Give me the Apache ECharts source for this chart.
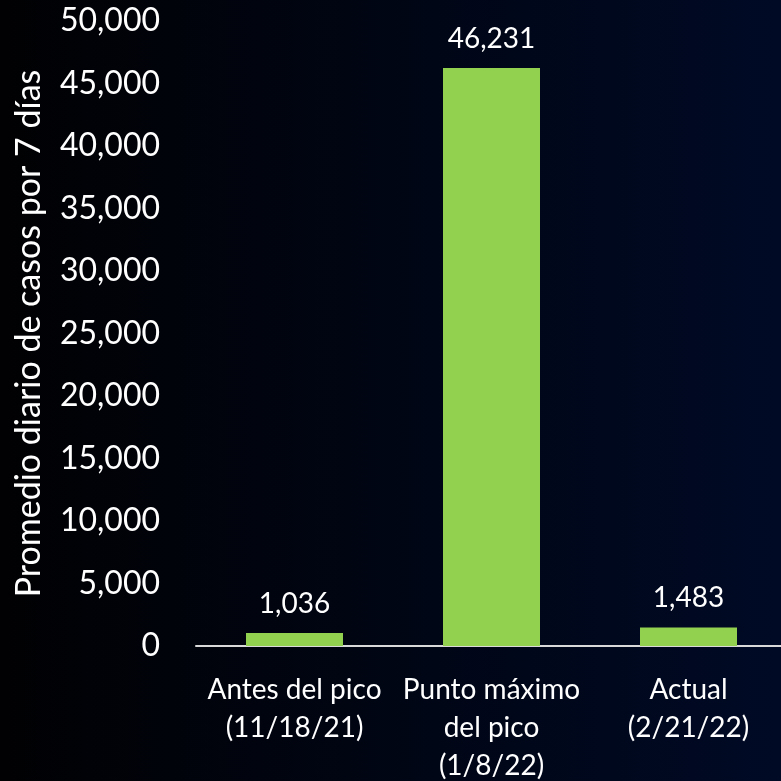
<!DOCTYPE html>
<html>
<head>
<meta charset="utf-8">
<script src="https://cdn.jsdelivr.net/npm/echarts@6/dist/echarts.min.js"></script>
<style>
html,body{margin:0;padding:0;background:#000;}
#c{width:781px;height:781px;}
</style>
</head>
<body>
<div id="c"></div>
<script>
const categories = ["Antes del pico\n(11/18/21)", "Punto máximo\ndel pico\n(1/8/22)", "Actual\n(2/21/22)"];
const values = [1036, 46231, 1483];
const yTitle = "Promedio diario de casos por 7 días";

const chart = echarts.init(document.getElementById('c'), null, {renderer: 'canvas'});
const fmt = v => v.toLocaleString('en-US');
chart.setOption({
  backgroundColor: new echarts.graphic.LinearGradient(0, 0, 1, 0, [
    {offset: 0, color: '#010103'},
    {offset: 1, color: '#000a25'}
  ]),
  animation: false,
  textStyle: {fontFamily: 'Lato'},
  grid: {left: 196, right: -6, top: 21, bottom: 135, containLabel: false, outerBoundsMode: 'none'},
  xAxis: {
    type: 'category',
    data: categories,
    axisLine: {show: true, lineStyle: {color: '#d9d9d9', width: 2}},
    axisTick: {show: false},
    axisLabel: {color: '#ffffff', fontSize: 28, fontFamily: 'Lato', lineHeight: 38, margin: 25, interval: 0}
  },
  yAxis: {
    type: 'value',
    min: 0, max: 50000, interval: 5000,
    name: yTitle,
    nameLocation: 'middle',
    nameGap: 150,
    nameRotate: 90,
    nameTextStyle: {color: '#ffffff', fontSize: 34, fontFamily: 'Lato'},
    axisLine: {show: false},
    axisTick: {show: false},
    splitLine: {show: false},
    axisLabel: {color: '#ffffff', fontSize: 32, fontFamily: 'Lato', margin: 36, formatter: v => fmt(v)}
  },
  series: [{
    type: 'bar',
    data: values,
    barWidth: 97,
    itemStyle: {color: '#92d050'},
    label: {show: true, position: 'top', distance: 15, color: '#ffffff', fontSize: 28, fontFamily: 'Lato', formatter: p => fmt(p.value)}
  }]
});
</script>
</body>
</html>
